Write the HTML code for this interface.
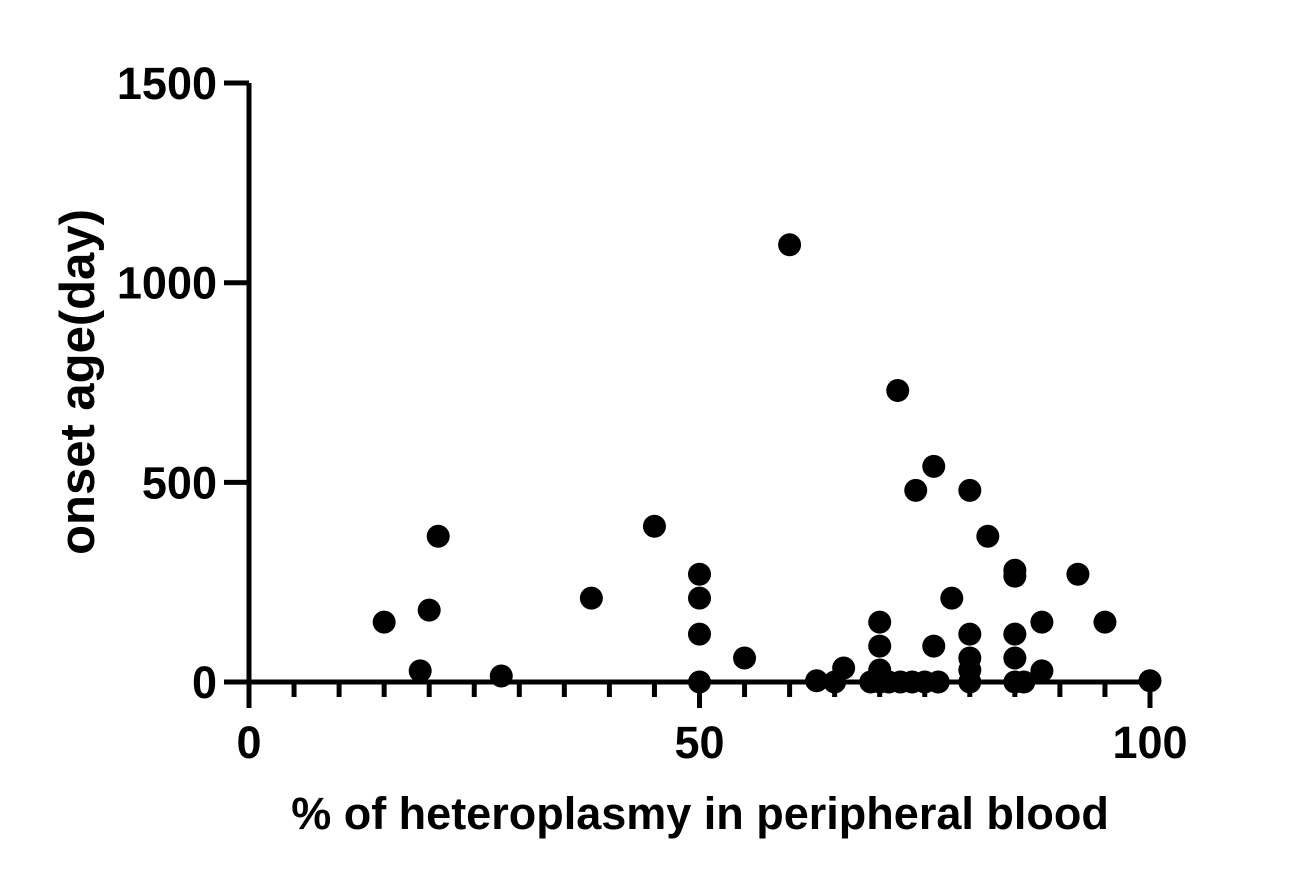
<!DOCTYPE html>
<html><head><meta charset="utf-8"><style>
html,body{margin:0;padding:0;background:#fff;}
svg{display:block;font-family:"Liberation Sans",Arial,sans-serif;font-weight:bold;}
</style></head><body>
<svg id="chart" width="1293" height="882">
<g id="axes"></g><g id="pts"></g>
<text transform="translate(94,382) rotate(-90)" text-anchor="middle" font-size="49">onset age(day)</text>
<text x="700" y="829" text-anchor="middle" font-size="45">% of heteroplasmy in peripheral blood</text>
</svg>
<script>
const xs=[15,19,20,21,28,38,45,50,50,50,50,55,60,63,65,66,69,70,70,70,70,72,71,72.3,73.6,75,74,76,76,76.5,78,80,80,80,80,80,82,85,85,85,85,85,86,88,88,92,95,100];
const ys=[150,28,180,365,15,210,390,270,210,120,0,60,1095,3,0,35,0,150,90,30,0,730,0,0,0,0,480,540,90,0,210,480,120,60,30,0,365,280,265,120,60,0,0,150,28,270,150,3];
const xTicks=[0,50,100];
const yTicks=[0,500,1000,1500];
const NS='http://www.w3.org/2000/svg';
const X=v=>249+v*9.01, Y=v=>682-v*0.3993;
const ax=document.getElementById('axes'), pg=document.getElementById('pts');
function mk(t,a,p){const e=document.createElementNS(NS,t);for(const k in a)e.setAttribute(k,a[k]);p.appendChild(e);return e;}
let l=mk('line',{x1:249,y1:Y(1500),x2:249,y2:708,stroke:'#000','stroke-width':5},ax);


l=mk('line',{x1:224,y1:682,x2:1152,y2:682,stroke:'#000','stroke-width':5},ax);


for(let v=5;v<=100;v+=5){if(v%50===0)continue;const t=mk('line',{x1:X(v),y1:682,x2:X(v),y2:697,stroke:'#000','stroke-width':5},ax);

}
xTicks.forEach(v=>{const t=mk('line',{x1:X(v),y1:682,x2:X(v),y2:708,stroke:'#000','stroke-width':5},ax);


const s=mk('text',{x:X(v),y:758,'text-anchor':'middle','font-size':45},ax);s.textContent=v;

});
yTicks.forEach(v=>{const t=mk('line',{x1:224,y1:Y(v),x2:249,y2:Y(v),stroke:'#000','stroke-width':5},ax);


const s=mk('text',{x:217,y:Y(v)+16,'text-anchor':'end','font-size':45},ax);s.textContent=v;

});
xs.forEach((x,i)=>{const c=mk('circle',{cx:X(x),cy:Y(ys[i]),r:11.5,fill:'#000'},pg);

});
</script>
</body></html>
